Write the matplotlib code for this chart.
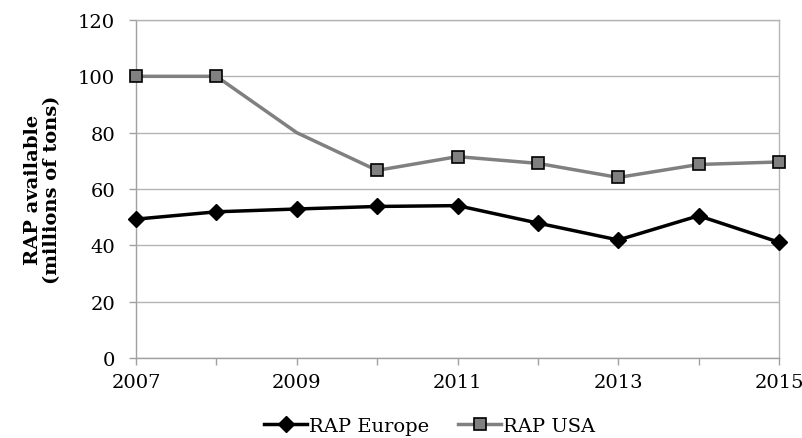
import matplotlib.pyplot as plt

years = [2007, 2008, 2009, 2010, 2011, 2012, 2013, 2014, 2015]
rap_europe = [49.3, 51.9, 52.9, 53.8, 54.1, 47.9, 41.9, 50.5, 41.1]
rap_usa = [100.0, 100.0, 80.0, 66.6, 71.5, 69.1, 64.1, 68.7, 69.6]
usa_marked = [True, True, False, True, True, True, True, True, True]
x_labels = ["2007", "", "2009", "", "2011", "", "2013", "", "2015"]

plt.rcParams["font.family"] = ["DejaVu Serif"]

fig = plt.figure(figsize=(8.03, 4.39), dpi=100)
ax = fig.add_axes([136 / 803, 1 - 359 / 439, (779 - 136) / 803, (359 - 21) / 439])

marks = [i for i, m in enumerate(usa_marked) if m]
ax.plot(years, rap_usa, color="#808080", lw=2.5, marker="s", markersize=9,
        markerfacecolor="#808080", markeredgecolor="black", markeredgewidth=1.2,
        markevery=marks, label="RAP USA", zorder=3, clip_on=False)
ax.plot(years, rap_europe, color="black", lw=2.5, marker="D", markersize=8,
        markerfacecolor="black", markeredgecolor="black",
        label="RAP Europe", zorder=4, clip_on=False)

ax.set_xlim(2007, 2015)
ax.set_ylim(0, 120)
ax.set_yticks(range(0, 121, 20))
ax.set_xticks(years)
ax.set_xticklabels(x_labels)
ax.tick_params(axis="both", labelsize=14, color="#a0a0a0", length=5, width=1)
ax.tick_params(axis="y", pad=10)
ax.tick_params(axis="x", pad=6)

ax.grid(axis="y", color="#b4b4b4", lw=1)
ax.set_axisbelow(True)
for side in ["left", "bottom", "right", "top"]:
    ax.spines[side].set_color("#b4b4b4")
    ax.spines[side].set_linewidth(1)
ax.spines["left"].set_color("#a0a0a0")
ax.spines["bottom"].set_color("#a0a0a0")

ax.set_ylabel("RAP available\n(millions of tons)", fontsize=14, fontweight="bold",
              labelpad=12, linespacing=1.1)

handles, labels = ax.get_legend_handles_labels()
fig.legend(handles[::-1], labels[::-1], loc="center", bbox_to_anchor=(0.535, 0.027),
           ncol=2, frameon=False, fontsize=14, handlelength=2.2, handletextpad=0.1,
           columnspacing=1.5)

fig.savefig("out.png", dpi=100)
